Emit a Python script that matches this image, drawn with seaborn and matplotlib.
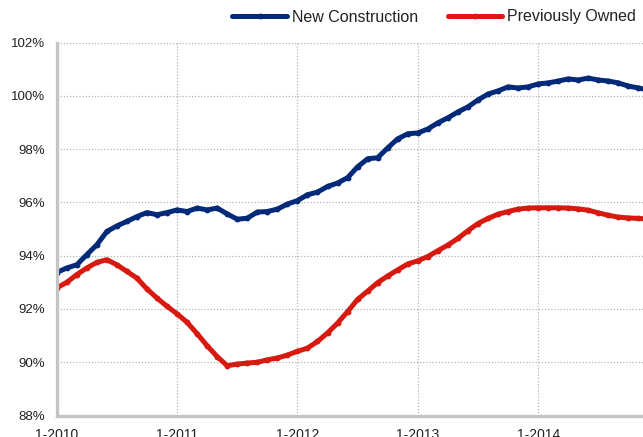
import numpy as np
import pandas as pd
import matplotlib
matplotlib.use("Agg")
import matplotlib.pyplot as plt
import seaborn as sns

# ---- data ----
tick_labels = ["1-2010", "1-2011", "1-2012", "1-2013", "1-2014"]
new_construction = [93.37, 93.54, 93.66, 94.04, 94.41, 94.91, 95.12, 95.29, 95.47, 95.62, 95.54, 95.62,
                    95.72, 95.66, 95.79, 95.72, 95.79, 95.57, 95.37, 95.41, 95.64, 95.66, 95.75, 95.94,
                    96.07, 96.29, 96.39, 96.60, 96.73, 96.93, 97.34, 97.64, 97.68, 98.05, 98.39, 98.58,
                    98.61, 98.76, 98.99, 99.18, 99.40, 99.59, 99.85, 100.07, 100.19, 100.34, 100.30, 100.34,
                    100.45, 100.49, 100.56, 100.64, 100.60, 100.67, 100.60, 100.56, 100.49, 100.37, 100.30, 100.22]
previously_owned = [92.79, 93.00, 93.29, 93.54, 93.75, 93.85, 93.66, 93.41, 93.16, 92.75, 92.41, 92.10,
                    91.82, 91.50, 91.07, 90.62, 90.21, 89.87, 89.93, 89.97, 90.00, 90.09, 90.16, 90.27,
                    90.41, 90.53, 90.78, 91.10, 91.47, 91.90, 92.36, 92.67, 92.99, 93.24, 93.47, 93.69,
                    93.81, 93.97, 94.19, 94.40, 94.65, 94.94, 95.21, 95.40, 95.56, 95.66, 95.75, 95.79,
                    95.80, 95.80, 95.80, 95.79, 95.76, 95.71, 95.61, 95.52, 95.45, 95.42, 95.40, 95.38]
series_names = ["New Construction", "Previously Owned"]
y_ticks = [88, 90, 92, 94, 96, 98, 100, 102]

month = np.arange(len(new_construction))
df = pd.concat([
    pd.DataFrame({"month": month, "value": new_construction, "series": series_names[0]}),
    pd.DataFrame({"month": month, "value": previously_owned, "series": series_names[1]}),
])

sns.set_style("white")
plt.rcParams["font.family"] = ["Liberation Sans", "DejaVu Sans"]

fig = plt.figure(figsize=(6.43, 4.37), dpi=100)
W, H = 643, 437
left_px, top_px, bottom_px = 56.7, 42.7, 415.5
px_per_month = 10.03
xmax = 60
ax = fig.add_axes([left_px / W, 1 - bottom_px / H, xmax * px_per_month / W, (bottom_px - top_px) / H])

palette = {"New Construction": "#022a78", "Previously Owned": "#d7190f"}
sns.lineplot(data=df, x="month", y="value", hue="series", palette=palette, ax=ax,
             linewidth=3.6, marker="o", markersize=4.2, markeredgewidth=0,
             legend=True)

ax.set_xlim(0, xmax)
ax.set_ylim(88, 102)
ax.set_yticks(y_ticks)
ax.set_yticklabels([f"{v}%" for v in y_ticks])
ax.set_xticks([0, 12, 24, 36, 48])
ax.set_xticklabels(tick_labels)
ax.set_xlabel("")
ax.set_ylabel("")

ax.grid(True, color="#b5b5b5", linestyle=(0, (1, 1.5)), linewidth=0.9)
ax.set_axisbelow(True)
for s in ["top", "right"]:
    ax.spines[s].set_visible(False)
for s in ["left", "bottom"]:
    ax.spines[s].set_color("#c4c4c4")
    ax.spines[s].set_linewidth(2.4)

ax.tick_params(axis="y", length=0, pad=8.5, labelsize=9.5, labelcolor="#222222")
ax.tick_params(axis="x", length=0, pad=9, labelsize=10, labelcolor="#222222")

handles, labels = ax.get_legend_handles_labels()
ax.get_legend().remove()
fig.legend(handles, labels, loc="center right", bbox_to_anchor=(636 / W, 1 - 17 / H),
           ncol=2, frameon=False, fontsize=11.5, handlelength=3.4, handletextpad=0.3,
           columnspacing=1.9, borderpad=0, borderaxespad=0, labelcolor="#222222")

fig.savefig("out.png", dpi=100)
